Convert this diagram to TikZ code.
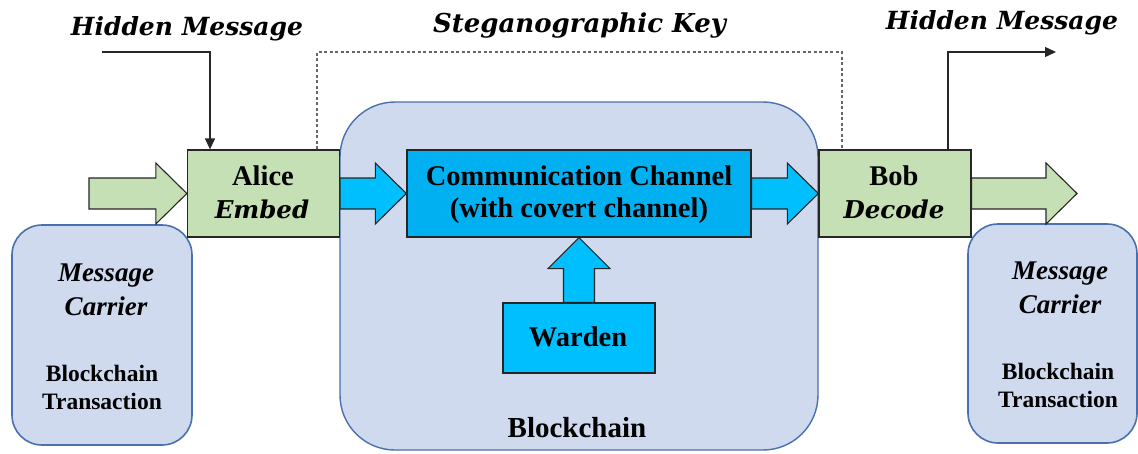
\documentclass[tikz,border=0pt]{standalone}
\usepackage{fontspec}
\setmainfont{Liberation Serif}
\newfontfamily\keyfont{DejaVu Serif}
\usetikzlibrary{calc,arrows.meta}

\definecolor{carrierfill}{HTML}{CFDAEF}
\definecolor{carrierline}{HTML}{4A70AE}
\definecolor{partyfill}{HTML}{C5E0B4}
\definecolor{channelfill}{HTML}{00B0F0}
\definecolor{flowfill}{HTML}{00BFFF}

% horizontal block arrow: style, tail point, head node anchor
\newcommand\blockright[3]{%
  \draw[#1] let \p1=(#2), \p2=(#3) in
    (\x1,{\y2+15.5pt}) -- ({\x2-31pt},{\y2+15.5pt}) -- ({\x2-31pt},{\y2+30.5pt})
    -- (\x2,\y2) -- ({\x2-31pt},{\y2-30.5pt}) -- ({\x2-31pt},{\y2-15.5pt})
    -- (\x1,{\y2-15.5pt}) -- cycle;}
% vertical block arrow pointing up: style, tail anchor, head anchor
\newcommand\blockup[3]{%
  \draw[#1] let \p1=(#2), \p2=(#3) in
    ({\x2-15.5pt},\y1) -- ({\x2-15.5pt},{\y2-31pt}) -- ({\x2-31pt},{\y2-31pt})
    -- (\x2,\y2) -- ({\x2+31pt},{\y2-31pt}) -- ({\x2+15.5pt},{\y2-31pt})
    -- ({\x2+15.5pt},\y1) -- cycle;}

\tikzset{
  carrier/.style={draw=carrierline, line width=1.6pt, fill=carrierfill, rounded corners=30pt},
  party/.style={draw=black!85, line width=1.3pt, fill=partyfill, minimum width=152pt, minimum height=87pt},
  channel/.style={draw=black!85, line width=1.3pt, fill=channelfill},
  greenarrow/.style={draw=black!85, line width=1.1pt, fill=partyfill},
  bluearrow/.style={draw=black!85, line width=1.1pt, fill=flowfill},
  msgline/.style={draw=black!85, line width=1.3pt, -{Triangle[length=11pt,width=10pt]}},
  keyline/.style={draw=black!60, line width=1.2pt, dash pattern=on 3pt off 2.5pt},
  lbl/.style={font=\fontsize{28.5}{31}\selectfont\bfseries, anchor=base, inner sep=0pt},
  ital/.style={font=\fontsize{24.5}{27}\selectfont\keyfont\bfseries\itshape, anchor=base, inner sep=0pt},
  carriertxt/.style={font=\fontsize{27}{30}\selectfont\bfseries\itshape, anchor=base, inner sep=0pt},
  txtxt/.style={font=\fontsize{23.5}{26}\selectfont\bfseries, anchor=base, inner sep=0pt},
  keytxt/.style={font=\fontsize{25}{28}\selectfont\keyfont\bfseries\itshape, anchor=base, inner sep=0pt},
}

\begin{document}
\begin{tikzpicture}[x=1pt, y=-1pt]
\useasboundingbox (0,0) rectangle (1138,453);

% blockchain container
\draw[carrier, rounded corners=55pt, line width=1.4pt] (340,102) rectangle (818,450);
\node (chainlbl) [lbl, font=\fontsize{29}{31}\selectfont\bfseries] at (577,437) {Blockchain};

% message carriers
\node (carrierL) [carrier, minimum width=180pt, minimum height=220pt] at (102,335) {};
\node (carrierR) [carrier, minimum width=169pt, minimum height=219pt] at (1052.5,333.5) {};
\node (msgL) [carriertxt] at (106,281) {Message};
\node (carL) [carriertxt] at (106,315) {Carrier};
\node (bcL) [txtxt] at (102,381) {Blockchain};
\node (trL) [txtxt] at (102,409) {Transaction};
\node (msgR) [carriertxt] at (1060,279) {Message};
\node (carR) [carriertxt] at (1060,313) {Carrier};
\node (bcR) [txtxt] at (1058,379) {Blockchain};
\node (trR) [txtxt] at (1058,407) {Transaction};

% parties and channel
\node (alice) [party] at (263.5,193.5) {};
\node (bob) [party] at (895,193.5) {};
\node (comm) [channel, minimum width=344pt, minimum height=87pt] at (579,193.5) {};
\node (warden) [channel, fill=flowfill, minimum width=152pt, minimum height=70pt] at (579,338) {};

\coordinate (inflow) at (89,193.5);
\coordinate (outflow) at (1077,193.5);

% block arrows
\blockright{greenarrow}{inflow}{alice.west}
\blockright{bluearrow}{alice.east}{comm.west}
\blockright{bluearrow}{comm.east}{bob.west}
\draw[greenarrow] let \p1=(bob.east), \p2=(outflow) in
    (\x1,{\y2+15.5pt}) -- ({\x2-31pt},{\y2+15.5pt}) -- ({\x2-31pt},{\y2+30.5pt})
    -- (\x2,\y2) -- ({\x2-31pt},{\y2-30.5pt}) -- ({\x2-31pt},{\y2-15.5pt})
    -- (\x1,{\y2-15.5pt}) -- cycle;
\blockup{bluearrow}{warden.north}{comm.south}

% redraw boxes above the arrows
\node [party] at (alice) {};
\node [party] at (bob) {};
\node [channel, minimum width=344pt, minimum height=87pt] at (comm) {};

% box texts
\node (alicelbl) [lbl] at (263,185.5) {Alice};
\node (embedlbl) [ital] at (262,218) {Embed};
\node (boblbl) [lbl] at (894,185.5) {Bob};
\node (decodelbl) [ital] at (894,218) {Decode};
\node (commlbl1) [lbl] at (579,185.5) {Communication Channel};
\node (commlbl2) [lbl] at (579,217.5) {(with covert channel)};
\node (wardenlbl) [lbl] at (578,346) {Warden};

% hidden message in and out
\coordinate (hmin) at (102,52);
\coordinate (hmout) at (1056,52);
\draw[msgline] (hmin) -| ([xshift=-53.5pt]alice.north);
\draw[msgline] ([xshift=53pt]bob.north) |- (hmout);
\node (hmlblL) [keytxt] at (187,35) {Hidden Message};
\node (hmlblR) [keytxt] at (1002,29) {Hidden Message};

% shared steganographic key
\coordinate (keytop) at (579,52);
\draw[keyline] ([xshift=53.5pt]alice.north) |- (keytop) -| ([xshift=-53pt]bob.north);
\node (keylbl) [keytxt, font=\fontsize{26}{28}\selectfont\keyfont\bfseries\itshape] at (579.5,32) {Steganographic Key};

\end{tikzpicture}
\end{document}
